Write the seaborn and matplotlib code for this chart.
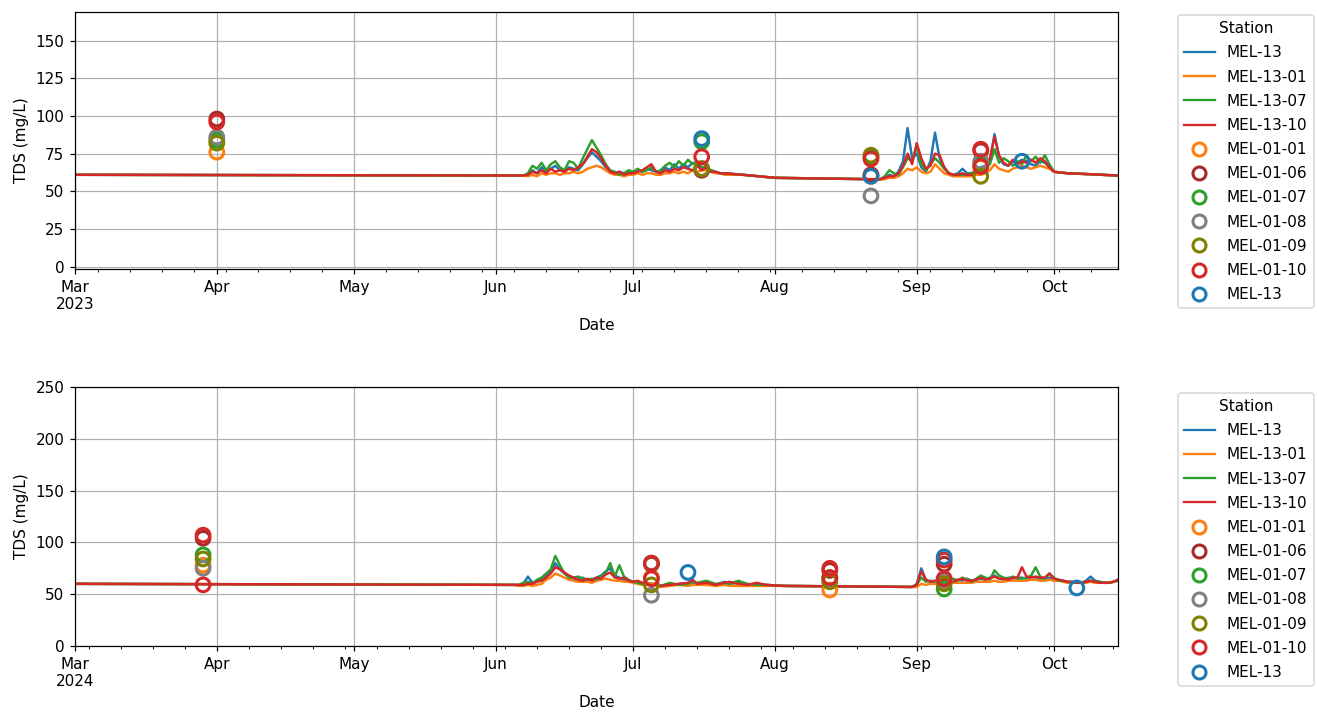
import numpy as np
import pandas as pd
import matplotlib
matplotlib.use("Agg")
import matplotlib.pyplot as plt
from matplotlib.lines import Line2D
import matplotlib.dates as mdates
import seaborn as sns

# ---------------- data ----------------
line_stations = ["MEL-13", "MEL-13-01", "MEL-13-07", "MEL-13-10"]
line_colors = ["#1f77b4", "#ff7f0e", "#2ca02c", "#d62728"]
sample_stations = ["MEL-01-01", "MEL-01-06", "MEL-01-07", "MEL-01-08",
                   "MEL-01-09", "MEL-01-10", "MEL-13"]
sample_colors = ["#ff7f0e", "#a52a2a", "#2ca02c", "#808080",
                 "#808000", "#d62728", "#1f77b4"]

# ---- 2023 logger series (anchor dates + daily stretches) ----
dates_2023 = (["2023-03-01", "2023-06-07"]
              + [d.strftime("%Y-%m-%d") for d in pd.date_range("2023-06-08", "2023-07-21")]
              + ["2023-07-25", "2023-08-01", "2023-08-12", "2023-08-24"]
              + [d.strftime("%Y-%m-%d") for d in pd.date_range("2023-08-25", "2023-09-30")]
              + ["2023-10-01", "2023-10-04", "2023-10-08", "2023-10-15"])

mel13_2023 = ([61, 60.5]
              + [61, 64, 62, 66, 63, 65, 67, 64, 63, 66,
                 65, 64, 68, 72, 76, 73, 70, 66, 63, 62,
                 63, 62, 63, 62, 64, 63, 65, 64, 63, 62,
                 66, 64, 68, 65, 68, 66, 69, 67, 66, 65,
                 64, 63, 62, 62]
              + [61, 59, 58.5, 58]
              + [59, 61, 60, 63, 70, 92, 72, 75, 66, 63,
                 70, 89, 72, 66, 62, 61, 62, 65, 62, 62,
                 63, 66, 67, 70, 88, 73, 68, 67, 70, 69,
                 71, 70, 68, 67, 70, 69, 66]
              + [63, 62, 61.5, 60.5])
mel1301_2023 = ([61, 60.5]
                + [60, 61, 60, 62, 61, 62, 62, 61, 62, 62,
                   63, 62, 63, 65, 66, 67, 66, 64, 62, 61,
                   61, 60, 61, 61, 62, 61, 62, 62, 61, 61,
                   62, 62, 63, 62, 63, 62, 64, 63, 64, 64,
                   63, 62, 62, 61]
                + [61, 59, 58.5, 58]
                + [58, 59, 59, 60, 62, 65, 64, 66, 63, 62,
                   63, 68, 65, 62, 61, 60, 60, 60, 60, 60,
                   61, 61, 62, 64, 68, 65, 64, 63, 65, 66,
                   67, 66, 65, 66, 67, 66, 65]
                + [63, 62, 61.5, 60.5])
mel1307_2023 = ([61, 60.5]
                + [62, 67, 65, 69, 64, 68, 70, 66, 64, 70,
                   69, 65, 72, 78, 84, 79, 74, 68, 64, 63,
                   61, 62, 64, 63, 65, 63, 64, 66, 63, 64,
                   67, 69, 66, 70, 67, 71, 68, 70, 66, 66,
                   64, 63, 62, 62]
                + [61, 59, 58.5, 58]
                + [60, 64, 62, 61, 66, 72, 70, 80, 68, 64,
                   68, 72, 69, 65, 62, 61, 61, 61, 61, 62,
                   64, 65, 66, 68, 78, 69, 72, 70, 67, 70,
                   68, 74, 70, 73, 69, 74, 68]
                + [63, 62, 61.5, 60.5])
mel1310_2023 = ([61, 60.5]
                + [61, 63, 62, 64, 62, 65, 63, 64, 63, 65,
                   64, 66, 68, 73, 78, 76, 72, 67, 63, 62,
                   63, 61, 62, 62, 63, 64, 66, 68, 63, 62,
                   64, 63, 65, 64, 66, 65, 64, 67, 64, 66,
                   63, 63, 62, 62]
                + [61, 59, 58.5, 58]
                + [59, 60, 60, 62, 67, 75, 68, 82, 72, 65,
                   67, 75, 74, 66, 62, 61, 61, 62, 61, 61,
                   63, 64, 66, 72, 86, 74, 69, 67, 71, 68,
                   70, 69, 71, 69, 72, 70, 66]
                + [63, 62, 61.5, 60.5])

# ---- 2023 grab samples ----
samp_dates_2023 = ["2023-04-01"] * 6 + ["2023-07-16"] * 7 + ["2023-08-22"] * 7 + \
                  ["2023-09-15"] * 7 + ["2023-09-24"]
samp_stations_2023 = ["MEL-01-01", "MEL-01-06", "MEL-01-07", "MEL-01-08", "MEL-01-09", "MEL-01-10",
                      "MEL-01-01", "MEL-01-06", "MEL-01-07", "MEL-01-08", "MEL-01-09", "MEL-01-10", "MEL-13",
                      "MEL-01-01", "MEL-01-06", "MEL-01-07", "MEL-01-08", "MEL-01-09", "MEL-01-10", "MEL-13",
                      "MEL-01-01", "MEL-01-06", "MEL-01-07", "MEL-01-08", "MEL-01-09", "MEL-01-10", "MEL-01-10",
                      "MEL-13"]
samp_values_2023 = [76, 98, 84, 86, 82, 96,
                    65, 64, 83, 65, 65, 73, 85,
                    60, 61, 73, 47, 74, 71.5, 60,
                    66, 77, 68, 70, 60, 78, 66.5,
                    70]

# ---- 2024 logger series ----
july_2024 = ["2024-07-05", "2024-07-07", "2024-07-09", "2024-07-11", "2024-07-13", "2024-07-14",
             "2024-07-15", "2024-07-17", "2024-07-19", "2024-07-21", "2024-07-22", "2024-07-24",
             "2024-07-26", "2024-07-28", "2024-07-30"]
dates_2024 = (["2024-03-01", "2024-06-05"]
              + [d.strftime("%Y-%m-%d") for d in pd.date_range("2024-06-06", "2024-07-03")]
              + july_2024
              + ["2024-08-03", "2024-08-31"]
              + [d.strftime("%Y-%m-%d") for d in pd.date_range("2024-09-01", "2024-10-15")])

mel13_2024 = ([60, 59]
              + [59, 60, 67, 61, 63, 65, 68, 72, 80, 74,
                 70, 67, 65, 64, 66, 63, 64, 66, 68, 72,
                 75, 68, 66, 64, 63, 62, 62, 61]
              + [60, 58, 59, 60, 60, 61, 60, 62, 59, 62, 60, 61, 59, 60, 59]
              + [58, 57]
              + [60, 75, 64, 62, 63, 62, 64, 63, 62, 64,
                 63, 65, 63, 64, 65, 64, 66, 68, 65, 64,
                 66, 65, 66, 66, 65, 67, 66, 65, 65, 66,
                 65, 64, 63, 62, 62, 61, 61, 63, 67, 63,
                 62, 61, 61, 62, 64])
mel1301_2024 = ([60, 59]
                + [58, 58, 59, 58, 59, 60, 64, 66, 70, 68,
                   66, 64, 63, 62, 62, 62, 61, 63, 64, 65,
                   64, 63, 63, 62, 62, 61, 60, 59]
                + [59, 57, 58, 59, 58, 59, 59, 59, 58, 59, 58, 58, 58, 58, 58]
                + [58, 57]
                + [57, 60, 59, 60, 60, 60, 60, 61, 61, 61,
                   61, 61, 61, 62, 62, 62, 62, 63, 62, 62,
                   63, 63, 63, 63, 63, 64, 64, 63, 63, 64,
                   63, 63, 62, 61, 61, 61, 61, 61, 62, 61,
                   61, 61, 61, 62, 63])
mel1307_2024 = ([60, 59]
                + [59, 61, 62, 60, 64, 66, 70, 74, 87, 78,
                   70, 66, 66, 67, 65, 64, 65, 64, 68, 70,
                   80, 67, 78, 67, 64, 62, 61, 60]
                + [60, 58, 61, 59, 60, 62, 61, 63, 60, 61, 60, 63, 60, 59, 59]
                + [58, 57]
                + [59, 66, 62, 63, 62, 64, 62, 63, 65, 63,
                   66, 64, 62, 65, 68, 66, 64, 73, 68, 66,
                   65, 67, 65, 65, 66, 68, 76, 67, 65, 70,
                   66, 63, 63, 62, 61, 62, 61, 62, 63, 62,
                   62, 61, 61, 62, 63])
mel1310_2024 = ([60, 59]
                + [59, 59, 60, 60, 62, 63, 66, 70, 76, 74,
                   71, 68, 66, 64, 63, 65, 63, 66, 65, 69,
                   71, 66, 65, 66, 63, 62, 63, 61]
                + [60, 58, 59, 60, 61, 64, 60, 61, 59, 61, 62, 60, 59, 61, 59]
                + [58, 57]
                + [59, 72, 64, 62, 63, 62, 65, 62, 62, 64,
                   65, 63, 63, 64, 66, 64, 65, 67, 65, 65,
                   64, 66, 66, 76, 67, 66, 67, 66, 66, 70,
                   65, 64, 63, 62, 62, 61, 61, 62, 63, 62,
                   61, 61, 61, 62, 64])

# ---- 2024 grab samples ----
samp_dates_2024 = ["2024-03-29"] * 7 + ["2024-07-05"] * 7 + ["2024-07-13"] + \
                  ["2024-08-13"] * 7 + ["2024-09-07"] * 8 + ["2024-10-06"]
samp_stations_2024 = ["MEL-01-01", "MEL-01-06", "MEL-01-07", "MEL-01-08", "MEL-01-09", "MEL-01-10", "MEL-01-10",
                      "MEL-01-01", "MEL-01-06", "MEL-01-07", "MEL-01-08", "MEL-01-09", "MEL-01-10", "MEL-01-10",
                      "MEL-13",
                      "MEL-01-01", "MEL-01-06", "MEL-01-07", "MEL-01-08", "MEL-01-09", "MEL-01-10", "MEL-01-10",
                      "MEL-01-01", "MEL-01-06", "MEL-01-07", "MEL-01-08", "MEL-01-09", "MEL-01-10", "MEL-01-10",
                      "MEL-13",
                      "MEL-13"]
samp_values_2024 = [78, 104, 88, 75, 84, 107, 59,
                    66, 79, 80, 49, 59, 80, 65,
                    71,
                    54, 73, 66, 64, 62, 75, 66,
                    62, 79, 55, 63, 60, 83, 65, 86,
                    56]

month_ticks_2023 = ["2023-03-01", "2023-04-01", "2023-05-01", "2023-06-01",
                    "2023-07-01", "2023-08-01", "2023-09-01", "2023-10-01"]
month_ticks_2024 = ["2024-03-01", "2024-04-01", "2024-05-01", "2024-06-01",
                    "2024-07-01", "2024-08-01", "2024-09-01", "2024-10-01"]
month_labels_2023 = ["Mar\n2023", "Apr", "May", "Jun", "Jul", "Aug", "Sep", "Oct"]
month_labels_2024 = ["Mar\n2024", "Apr", "May", "Jun", "Jul", "Aug", "Sep", "Oct"]
yticks_2023 = [0, 25, 50, 75, 100, 125, 150]
yticks_2024 = [0, 50, 100, 150, 200, 250]


# ---------------- helpers ----------------
def long_lines(dates, series):
    frames = []
    for name, vals in zip(line_stations, series):
        assert len(vals) == len(dates), (name, len(vals), len(dates))
        frames.append(pd.DataFrame({"Date": pd.to_datetime(dates), "TDS": vals, "Station": name}))
    return pd.concat(frames, ignore_index=True)


def samples_df(dates, stations, values):
    assert len(dates) == len(stations) == len(values)
    df = pd.DataFrame({"Date": pd.to_datetime(dates), "Station": stations, "TDS": values})
    df["order"] = df["Station"].map({s: i for i, s in enumerate(sample_stations)})
    return df.sort_values("order", kind="stable")


def draw(ax, ldf, sdf, ticks, labels, yticks, ylim, leg_y):
    sns.lineplot(data=ldf, x="Date", y="TDS", hue="Station", hue_order=line_stations,
                 palette=dict(zip(line_stations, line_colors)), ax=ax, legend=False,
                 linewidth=1.6, estimator=None)
    sns.scatterplot(data=sdf, x="Date", y="TDS", hue="Station", hue_order=sample_stations,
                    palette=dict(zip(sample_stations, sample_colors)), ax=ax, legend=False,
                    s=80, linewidth=2.0, zorder=3)
    coll = ax.collections[-1]
    fcs = coll.get_facecolors()
    coll.set_edgecolors(fcs)
    coll.set_facecolors("none")
    coll.set_linewidths(2.0)

    ax.set_xticks(pd.to_datetime(ticks))
    ax.set_xticklabels(labels)
    ax.xaxis.set_minor_locator(mdates.WeekdayLocator(byweekday=mdates.MO))
    ax.set_xlim(ldf["Date"].min(), ldf["Date"].max())
    ax.set_yticks(yticks)
    ax.set_ylim(*ylim)
    ax.grid(True, which="major", color="#b0b0b0", linewidth=0.8)
    ax.set_xlabel("Date")
    ax.set_ylabel("TDS (mg/L)")

    handles = [Line2D([0], [0], color=c, lw=1.5) for c in line_colors] + \
              [Line2D([0], [0], marker="o", ls="", markerfacecolor="none",
                      markeredgecolor=c, markeredgewidth=2, markersize=8.5) for c in sample_colors]
    ax.legend(handles, line_stations + sample_stations, title="Station",
              loc="upper left", bbox_to_anchor=(1.0575, leg_y), borderaxespad=0,
              labelspacing=0.6)


# ---------------- figure ----------------
DPI = 110
W, H = 1317, 715
fig = plt.figure(figsize=(W / DPI, H / DPI), dpi=DPI)
ax1 = fig.add_axes([75 / W, 1 - 269 / H, (1118 - 75) / W, (269 - 12) / H])
ax2 = fig.add_axes([75 / W, 1 - 646 / H, (1118 - 75) / W, (646 - 387) / H])

draw(ax1,
     long_lines(dates_2023, [mel13_2023, mel1301_2023, mel1307_2023, mel1310_2023]),
     samples_df(samp_dates_2023, samp_stations_2023, samp_values_2023),
     month_ticks_2023, month_labels_2023, yticks_2023, (-1.5, 169), 0.988)
draw(ax2,
     long_lines(dates_2024, [mel13_2024, mel1301_2024, mel1307_2024, mel1310_2024]),
     samples_df(samp_dates_2024, samp_stations_2024, samp_values_2024),
     month_ticks_2024, month_labels_2024, yticks_2024, (0, 250), 0.977)

fig.savefig("out.png", dpi=DPI)
